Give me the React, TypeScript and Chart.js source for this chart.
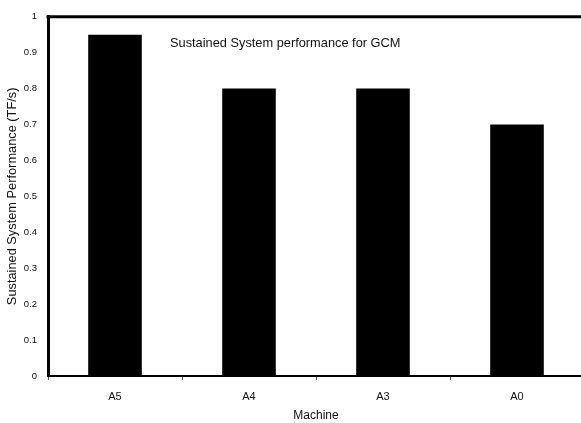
import React, { useEffect, useRef } from "react";
import { Chart, registerables } from "chart.js";

Chart.register(...registerables);

const categories = ["A5", "A4", "A3", "A0"];
const performance = [0.95, 0.8, 0.8, 0.7];
const yTicks = [0, 0.1, 0.2, 0.3, 0.4, 0.5, 0.6, 0.7, 0.8, 0.9, 1];
const chartTitle = "Sustained System performance for GCM";
const xTitle = "Machine";
const yTitle = "Sustained System Performance (TF/s)";

const FONT = "'Liberation Sans', Arial, sans-serif";

export default function App() {
  const ref = useRef<HTMLCanvasElement | null>(null);
  useEffect(() => {
    if (!ref.current) return;
    const frame = {
      id: "frame",
      afterDraw(chart: any) {
        const { ctx, chartArea } = chart;
        ctx.save();
        ctx.strokeStyle = "#000";
        ctx.lineWidth = 3;
        ctx.beginPath();
        ctx.moveTo(chartArea.left - 1.5, chartArea.top);
        ctx.lineTo(chartArea.right, chartArea.top);
        ctx.stroke();
        ctx.fillStyle = "#111";
        ctx.font = "12.8px " + FONT;
        ctx.textBaseline = "middle";
        ctx.textAlign = "left";
        ctx.fillText(chartTitle, chartArea.left + 122, chartArea.top + 27);
        ctx.restore();
      },
    };
    const chart = new Chart(ref.current, {
      type: "bar",
      data: {
        labels: categories,
        datasets: [
          {
            data: performance,
            backgroundColor: "#000",
            borderWidth: 0,
            categoryPercentage: 0.8,
            barPercentage: 0.5,
          },
        ],
      },
      plugins: [frame],
      options: {
        animation: false,
        responsive: false,
        maintainAspectRatio: false,
        layout: { padding: { top: 14, left: 0, right: 0, bottom: 0 } },
        plugins: { legend: { display: false }, tooltip: { enabled: false } },
        scales: {
          x: {
            grid: {
              display: true,
              drawOnChartArea: false,
              drawTicks: true,
              tickLength: 4,
              color: "#555",
              offset: true,
            },
            border: { display: true, color: "#000", width: 2 },
            ticks: {
              color: "#111",
              font: { family: FONT, size: 11 },
              padding: 10,
            },
            title: {
              display: true,
              text: xTitle,
              color: "#111",
              font: { family: FONT, size: 12 },
              padding: { top: 1, bottom: 0 },
            },
            afterFit(scale: any) {
              scale.height = 47;
            },
          },
          y: {
            min: 0,
            max: 1,
            afterBuildTicks(scale: any) {
              scale.ticks = yTicks.map((v) => ({ value: v }));
            },
            grid: { display: false, drawTicks: false },
            border: { display: true, color: "#000", width: 3 },
            ticks: {
              color: "#111",
              font: { family: FONT, size: 9.5 },
              padding: 11,
              callback: (v: any) => String(Math.round(Number(v) * 10) / 10),
            },
            title: {
              display: true,
              text: yTitle,
              color: "#111",
              font: { family: FONT, size: 12.8 },
              padding: { top: 5, bottom: 0 },
            },
            afterFit(scale: any) {
              scale.width = 48;
            },
          },
        },
      },
    });
    return () => chart.destroy();
  }, []);
  return (
    <div
      style={{
        position: "fixed",
        left: 0,
        top: 0,
        width: 581,
        height: 423,
        overflow: "hidden",
        background: "#fff",
      }}
    >
      <canvas ref={ref} width={584} height={423} style={{ display: "block" }} />
    </div>
  );
}
